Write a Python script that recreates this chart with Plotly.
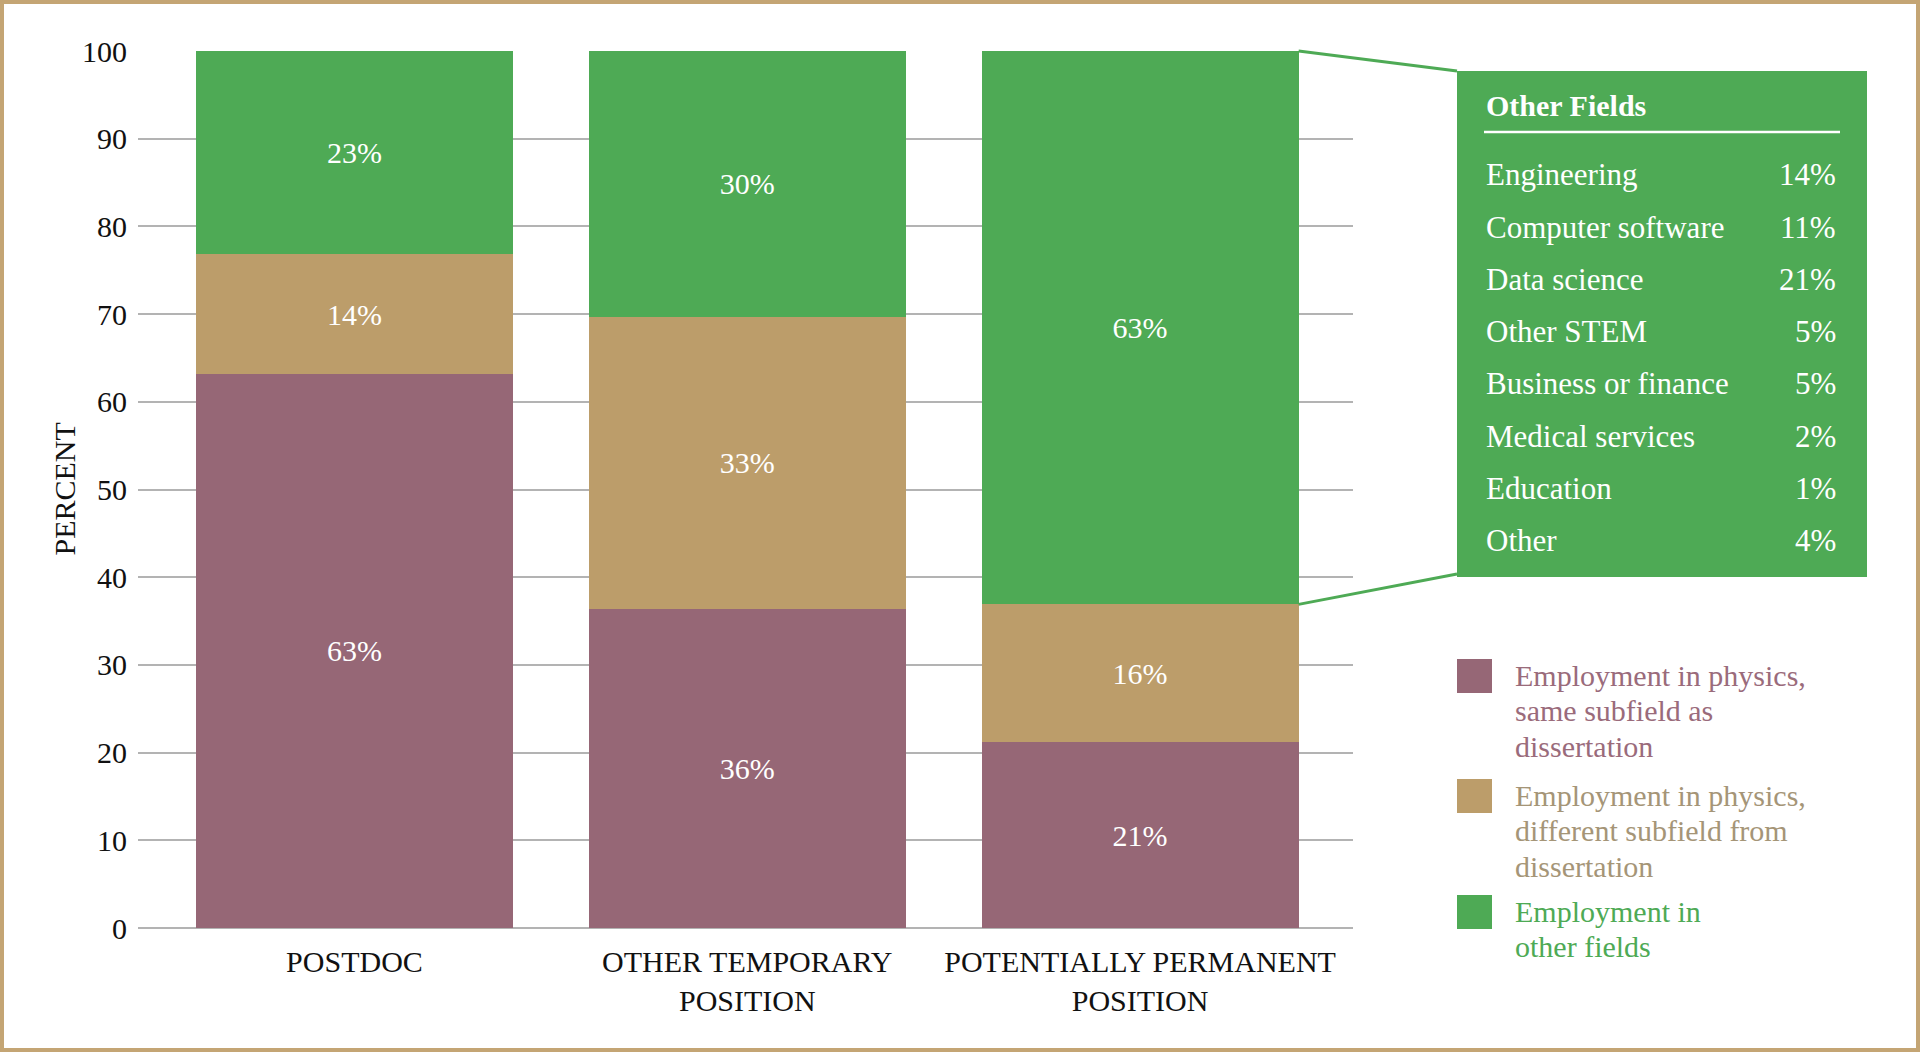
import plotly.graph_objects as go

# Data
categories = ["POSTDOC", "OTHER TEMPORARY<br>POSITION", "POTENTIALLY PERMANENT<br>POSITION"]
same_subfield = [63.2, 36.4, 21.2]
diff_subfield = [13.6, 33.3, 15.7]
other_fields = [23.2, 30.3, 63.1]

series_names = [
    "Employment in physics, same subfield as dissertation",
    "Employment in physics, different subfield from dissertation",
    "Employment in other fields",
]
legend_lines = [
    ["Employment in physics,", "same subfield as", "dissertation"],
    ["Employment in physics,", "different subfield from", "dissertation"],
    ["Employment in", "other fields"],
]

inset_fields = ["Engineering", "Computer software", "Data science", "Other STEM",
                "Business or finance", "Medical services", "Education", "Other"]
inset_pct = [14, 11, 21, 5, 5, 2, 1, 4]

y_ticks = list(range(0, 101, 10))

# Style
FONT = "Liberation Serif"
PURPLE = "#966776"
TAN = "#BC9D6A"
GREEN = "#4EAA55"
GOLD = "#C4A574"
text_colors = ["#9A6B7B", "#A59577", GREEN]
bar_colors = [PURPLE, TAN, GREEN]

W, H = 1920, 1052
L, R, T, B = 138, 567, 51, 124
pw, ph = W - L - R, H - T - B


def px(x):
    return (x - L) / pw


def py(y):
    return (H - B - y) / ph


bar_w = 0.807
x_range = [-0.551, 2.542]

fig = go.Figure()
for name, vals, col in zip(series_names, [same_subfield, diff_subfield, other_fields], bar_colors):
    fig.add_trace(go.Bar(
        x=categories, y=vals, name=name, width=bar_w,
        marker=dict(color=col, line=dict(width=0)),
        texttemplate="%{y:.0f}%", textposition="inside", insidetextanchor="middle",
        textangle=0, textfont=dict(family=FONT, size=30, color="white"),
    ))

shapes = []
annotations = []

# outer frame
shapes.append(dict(type="rect", xref="paper", yref="paper",
                   x0=px(2), x1=px(W - 2), y0=py(H - 2), y1=py(2),
                   line=dict(color=GOLD, width=4), fillcolor="rgba(0,0,0,0)", layer="above"))

# inset box with the other-fields breakdown
bx0, bx1, by_top, by_bot = 1457, 1867, 71, 577
shapes.append(dict(type="rect", xref="paper", yref="paper",
                   x0=px(bx0), x1=px(bx1), y0=py(by_bot), y1=py(by_top),
                   line=dict(width=0), fillcolor=GREEN))
shapes.append(dict(type="line", xref="paper", yref="paper",
                   x0=px(1484), x1=px(1840), y0=py(132), y1=py(132),
                   line=dict(color="white", width=2.5)))
annotations.append(dict(xref="paper", yref="paper", x=px(1484), y=py(106),
                        xanchor="left", yanchor="middle", showarrow=False,
                        text="<b>Other Fields</b>",
                        font=dict(family=FONT, size=30, color="white")))
for i, (fld, pct) in enumerate(zip(inset_fields, inset_pct)):
    yy = 175 + i * 52.2
    annotations.append(dict(xref="paper", yref="paper", x=px(1484), y=py(yy),
                            xanchor="left", yanchor="middle", showarrow=False, text=fld,
                            font=dict(family=FONT, size=31, color="white")))
    annotations.append(dict(xref="paper", yref="paper", x=px(1838), y=py(yy),
                            xanchor="right", yanchor="middle", showarrow=False, text=f"{pct}%",
                            font=dict(family=FONT, size=31, color="white")))

# connector lines from the green segment of the last bar to the inset
bar_right = (2 + bar_w / 2 - x_range[0]) / (x_range[1] - x_range[0])
green_top = (same_subfield[2] + diff_subfield[2] + other_fields[2]) / 100
green_bot = (same_subfield[2] + diff_subfield[2]) / 100
shapes.append(dict(type="line", xref="paper", yref="paper",
                   x0=bar_right, y0=green_top, x1=px(bx0), y1=py(by_top),
                   line=dict(color=GREEN, width=3)))
shapes.append(dict(type="line", xref="paper", yref="paper",
                   x0=bar_right, y0=green_bot, x1=px(bx0), y1=py(by_bot - 3),
                   line=dict(color=GREEN, width=3)))

# legend
sq_tops = [659, 779, 895]
for lines, col, tcol, top in zip(legend_lines, bar_colors, text_colors, sq_tops):
    shapes.append(dict(type="rect", xref="paper", yref="paper",
                       x0=px(1457), x1=px(1492), y0=py(top + 34), y1=py(top),
                       line=dict(width=0), fillcolor=col))
    for j, ln in enumerate(lines):
        annotations.append(dict(xref="paper", yref="paper", x=px(1513), y=py(top + 16 + j * 35.5),
                                xanchor="left", yanchor="middle", showarrow=False, text=ln,
                                font=dict(family=FONT, size=30, color=tcol)))

# y axis title
annotations.append(dict(xref="paper", yref="paper", x=px(64), y=0.5, textangle=-90,
                        xanchor="center", yanchor="middle", showarrow=False, text="PERCENT",
                        font=dict(family=FONT, size=30, color="#111111")))

fig.update_layout(
    width=W, height=H,
    margin=dict(l=L, r=R, t=T, b=B, autoexpand=False),
    barmode="stack", showlegend=False,
    paper_bgcolor="white", plot_bgcolor="white",
    font=dict(family=FONT, size=30, color="#111111"),
    shapes=shapes, annotations=annotations,
    xaxis=dict(range=x_range, showgrid=False, zeroline=False, showline=False, ticks="",
               tickfont=dict(family=FONT, size=30, color="#111111"), ticklabelstandoff=13),
    yaxis=dict(range=[0, 100], tickvals=y_ticks, showgrid=True, gridcolor="#b3b3b3", gridwidth=2,
               zeroline=True, zerolinecolor="#b3b3b3", zerolinewidth=2, showline=False, ticks="",
               tickfont=dict(family=FONT, size=30, color="#111111"), ticklabelstandoff=10),
)

fig.write_html("out.html", config={"displayModeBar": False},
               post_script="document.body.style.margin='0';")
